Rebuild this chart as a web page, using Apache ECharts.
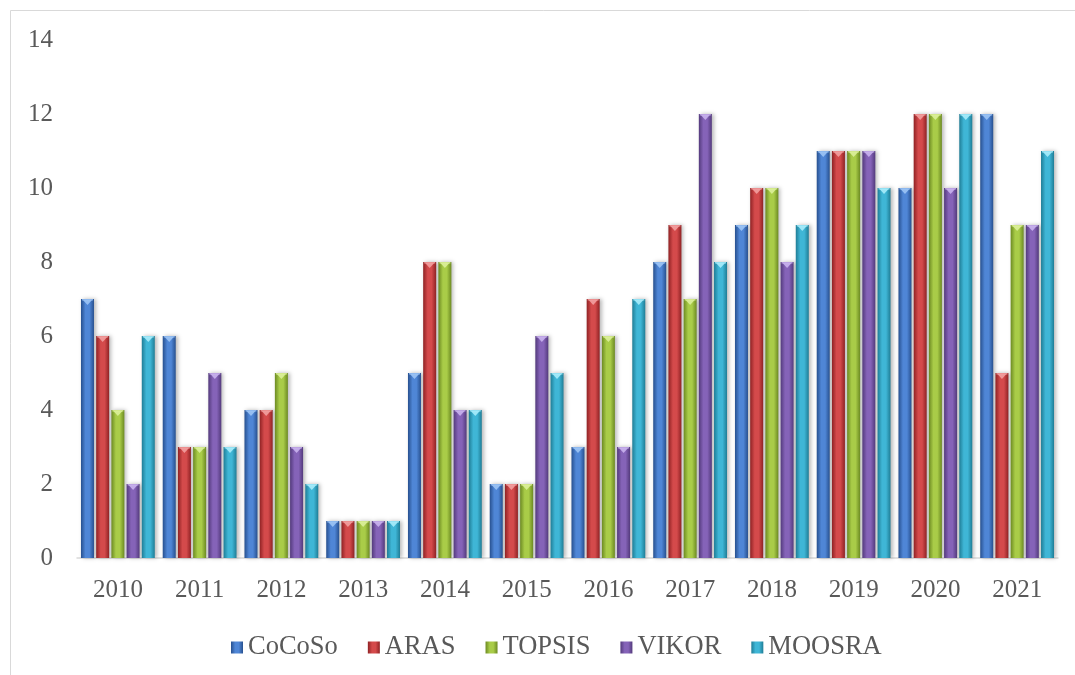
<!DOCTYPE html>
<html>
<head>
<meta charset="utf-8">
<script src="https://cdn.jsdelivr.net/npm/echarts@6/dist/echarts.min.js"></script>
<style>
  html, body { margin: 0; padding: 0; background: #ffffff; }
  #chart { width: 1075px; height: 675px; }
</style>
</head>
<body>
<div id="chart"></div>
<script>
// Publications per year for each MCDM method
const years = ['2010', '2011', '2012', '2013', '2014', '2015', '2016', '2017', '2018', '2019', '2020', '2021'];
const seriesNames = ['CoCoSo', 'ARAS', 'TOPSIS', 'VIKOR', 'MOOSRA'];
const cocoso = [7, 6, 4, 1, 5, 2, 3, 8, 9, 11, 10, 12];
const aras   = [6, 3, 4, 1, 8, 2, 7, 9, 10, 11, 12, 5];
const topsis = [4, 3, 5, 1, 8, 2, 6, 7, 10, 11, 12, 9];
const vikor  = [2, 5, 3, 1, 4, 6, 3, 12, 8, 11, 10, 9];
const moosra = [6, 3, 2, 1, 4, 5, 7, 8, 9, 10, 12, 11];
const yTicks = [0, 2, 4, 6, 8, 10, 12, 14];

const seriesData = [cocoso, aras, topsis, vikor, moosra];

// Bevelled column palette: [dark edge, highlight, top cap]
const palette = [
  ['#27508f', '#4f86d6', '#9cc4f5'],
  ['#8f2224', '#d44a4b', '#f2a0a0'],
  ['#6c8a22', '#a9cc48', '#dcf09a'],
  ['#533a7c', '#8563b8', '#c9b2ee'],
  ['#1f7d96', '#3fb6d6', '#a8ecfb']
];

const BAR_W = 13;
const BAR_STEP = 15.2;

function columnFill(p) {
  return new echarts.graphic.LinearGradient(0, 0, 1, 0, [
    { offset: 0, color: p[0] },
    { offset: 0.35, color: p[1] },
    { offset: 0.65, color: p[1] },
    { offset: 1, color: p[0] }
  ]);
}

function makeRender(idx) {
  const p = palette[idx];
  return function (params, api) {
    const top = api.coord([api.value(0), api.value(1)]);
    const base = api.coord([api.value(0), 0]);
    const x = top[0] + (idx - 2) * BAR_STEP - BAR_W / 2;
    const h = base[1] - top[1];
    return {
      type: 'group',
      children: [
        {
          type: 'rect',
          shape: { x: x, y: top[1], width: BAR_W, height: h },
          style: {
            fill: columnFill(p),
            shadowBlur: 4,
            shadowOffsetX: 2,
            shadowOffsetY: 0,
            shadowColor: 'rgba(0,0,0,0.28)'
          }
        },
        {
          type: 'rect',
          shape: { x: x + 1, y: top[1], width: BAR_W - 2, height: 1.5 },
          style: { fill: p[2], opacity: 0.8 }
        },
        {
          type: 'polygon',
          shape: { points: [[x + 2, top[1] + 1], [x + BAR_W - 2, top[1] + 1], [x + BAR_W / 2, top[1] + 6]] },
          style: { fill: p[2], opacity: 0.9 }
        }
      ]
    };
  };
}

const chart = echarts.init(document.getElementById('chart'), null, { renderer: 'canvas' });

const textColor = '#595959';
const fontFamily = '"Liberation Serif", "Times New Roman", serif';

chart.setOption({
  backgroundColor: '#ffffff',
  animation: false,
  graphic: [{
    type: 'rect',
    shape: { x: 10.5, y: 10.5, width: 1080, height: 700 },
    style: { fill: 'none', stroke: '#d9d9d9', lineWidth: 1 },
    silent: true
  }],
  grid: { left: 77, right: 17, top: 40, bottom: 117, containLabel: false },
  legend: {
    data: seriesNames,
    left: 226,
    top: 629,
    itemWidth: 12,
    itemHeight: 12,
    itemGap: 30,
    icon: 'rect',
    textStyle: { color: textColor, fontSize: 26.5, fontFamily: fontFamily }
  },
  xAxis: {
    type: 'category',
    data: years,
    axisLine: { lineStyle: { color: '#d9d9d9', width: 1.5 } },
    axisTick: { show: false },
    axisLabel: { color: textColor, fontSize: 25, fontFamily: fontFamily, margin: 20 }
  },
  yAxis: {
    type: 'value',
    min: yTicks[0],
    max: yTicks[yTicks.length - 1],
    interval: 2,
    splitLine: { show: false },
    axisLine: { show: false },
    axisTick: { show: false },
    axisLabel: { color: textColor, fontSize: 25, fontFamily: fontFamily, margin: 24 }
  },
  series: seriesNames.map((name, i) => ({
    name: name,
    type: 'custom',
    renderItem: makeRender(i),
    itemStyle: { color: columnFill(palette[i]) },
    encode: { x: 0, y: 1 },
    data: years.map((y, k) => [k, seriesData[i][k]])
  }))
});
</script>
</body>
</html>
